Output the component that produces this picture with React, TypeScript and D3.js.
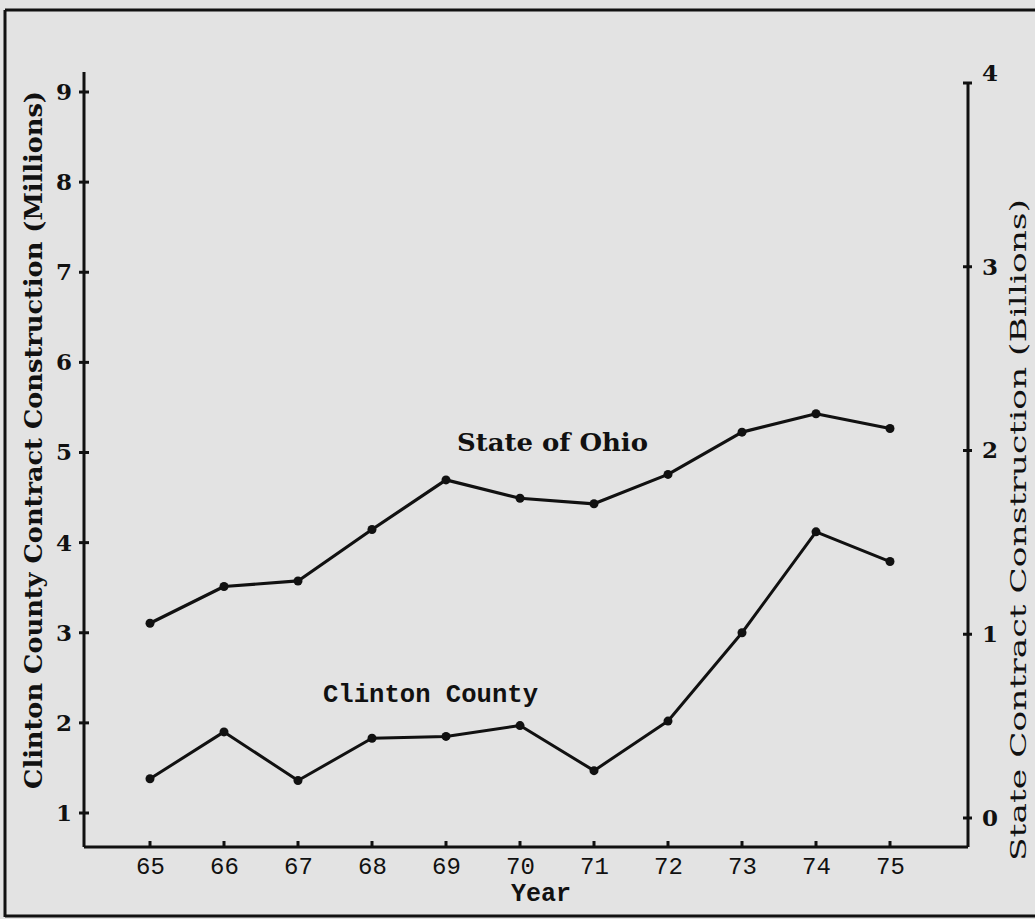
import React, { useEffect, useRef } from 'react';
import * as d3 from 'd3';

// years on the x axis (two-digit, 1965-1975)
const years = [65, 66, 67, 68, 69, 70, 71, 72, 73, 74, 75];
// Clinton County contract construction, millions of dollars (left axis)
const clintonValues = [1.38, 1.9, 1.36, 1.83, 1.85, 1.97, 1.47, 2.02, 3.0, 4.12, 3.79];
// State of Ohio contract construction, billions of dollars (right axis)
const ohioValues = [1.06, 1.26, 1.29, 1.57, 1.84, 1.74, 1.71, 1.87, 2.1, 2.2, 2.12];
const leftTicks = [1, 2, 3, 4, 5, 6, 7, 8, 9];
const rightTicks = [0, 1, 2, 3, 4];

const W = 1035;
const H = 919;
const TYPE = '"Liberation Mono", "DejaVu Sans Mono", monospace';
const SERIF = '"DejaVu Serif", "Liberation Serif", serif';

const App: React.FC = () => {
  const ref = useRef<SVGSVGElement | null>(null);

  useEffect(() => {
    if (!ref.current) return;
    const svg = d3.select(ref.current);
    svg.selectAll('*').remove();

    const x = d3.scaleLinear().domain([65, 75]).range([150, 890]);
    const yL = d3.scaleLinear().domain([1, 9]).range([813, 92]);
    const yR = d3.scaleLinear().domain([0, 4]).range([818, 83]);
    const axisX = 84;
    const rightX = 968;
    const baseY = 847;

    // paper
    svg.append('rect').attr('width', W).attr('height', H).attr('fill', '#e3e3e3');

    // page frame
    svg.append('line').attr('x1', 5).attr('x2', W).attr('y1', 10).attr('y2', 10)
      .attr('stroke', '#111').attr('stroke-width', 3);
    svg.append('line').attr('x1', 5).attr('x2', 5).attr('y1', 10).attr('y2', 917)
      .attr('stroke', '#111').attr('stroke-width', 3);
    svg.append('line').attr('x1', 5).attr('x2', W).attr('y1', 916).attr('y2', 916)
      .attr('stroke', '#111').attr('stroke-width', 3);

    const g = svg.append('g');

    // left axis
    const left = g.append('g').attr('transform', `translate(${axisX},0)`);
    left.call(d3.axisLeft(yL).tickValues(leftTicks).tickSize(0).tickPadding(12).tickFormat(d3.format('d')));
    left.select('.domain').remove();
    left.selectAll('text')
      .style('font-family', SERIF).style('font-size', '23px').style('font-weight', 'bold').attr('fill', '#111');
    g.append('line').attr('x1', axisX).attr('x2', axisX).attr('y1', 72).attr('y2', baseY)
      .attr('stroke', '#111').attr('stroke-width', 3);
    g.selectAll('line.lt').data(leftTicks).enter().append('line')
      .attr('x1', axisX - 5).attr('x2', axisX + 5)
      .attr('y1', d => yL(d)).attr('y2', d => yL(d))
      .attr('stroke', '#111').attr('stroke-width', 3);

    // right axis
    const right = g.append('g').attr('transform', `translate(${rightX},0)`);
    right.call(d3.axisRight(yR).tickValues(rightTicks).tickSize(0).tickPadding(14).tickFormat(d3.format('d')));
    right.select('.domain').remove();
    right.selectAll('text')
      .style('font-family', SERIF).style('font-size', '23px').style('font-weight', 'bold').attr('fill', '#111')
      .attr('dy', (d: any) => (d === 4 ? '-0.1em' : '0.32em'));
    g.append('line').attr('x1', rightX).attr('x2', rightX).attr('y1', yR(4)).attr('y2', baseY)
      .attr('stroke', '#111').attr('stroke-width', 3);
    g.selectAll('line.rt').data(rightTicks).enter().append('line')
      .attr('x1', rightX - 5).attr('x2', rightX + 4)
      .attr('y1', d => yR(d)).attr('y2', d => yR(d))
      .attr('stroke', '#111').attr('stroke-width', 3);

    // x axis
    const bottom = g.append('g').attr('transform', `translate(0,${baseY})`);
    bottom.call(d3.axisBottom(x).tickValues(years).tickSize(0).tickPadding(10).tickFormat(d3.format('d')));
    bottom.select('.domain').remove();
    bottom.selectAll('text')
      .style('font-family', TYPE).style('font-size', '24px').attr('fill', '#111');
    g.append('line').attr('x1', axisX).attr('x2', rightX).attr('y1', baseY).attr('y2', baseY)
      .attr('stroke', '#111').attr('stroke-width', 3);
    g.selectAll('line.xt').data(years).enter().append('line')
      .attr('x1', d => x(d)).attr('x2', d => x(d))
      .attr('y1', baseY - 6).attr('y2', baseY)
      .attr('stroke', '#111').attr('stroke-width', 3);

    // axis titles
    g.append('text')
      .attr('transform', `translate(42,440) rotate(-90)`)
      .attr('text-anchor', 'middle')
      .attr('textLength', 698).attr('lengthAdjust', 'spacingAndGlyphs')
      .style('font-family', SERIF).style('font-size', '24px').style('font-weight', 'bold').attr('fill', '#111')
      .text('Clinton County Contract Construction (Millions)');
    g.append('text')
      .attr('transform', `translate(1026,530) rotate(-90)`)
      .attr('text-anchor', 'middle')
      .attr('textLength', 662).attr('lengthAdjust', 'spacingAndGlyphs')
      .style('font-family', SERIF).style('font-size', '22px').attr('fill', '#111')
      .text('State Contract Construction (Billions)');
    g.append('text')
      .attr('x', 541).attr('y', 901)
      .attr('text-anchor', 'middle')
      .style('font-family', TYPE).style('font-size', '25px').style('font-weight', 'bold').attr('fill', '#111')
      .text('Year');

    // series
    const clinton = years.map((yr, i) => ({ yr, v: clintonValues[i] }));
    const ohio = years.map((yr, i) => ({ yr, v: ohioValues[i] }));

    const lineL = d3.line<{ yr: number; v: number }>().x(d => x(d.yr)).y(d => yL(d.v));
    const lineR = d3.line<{ yr: number; v: number }>().x(d => x(d.yr)).y(d => yR(d.v));

    g.append('path').datum(ohio).attr('d', lineR)
      .attr('fill', 'none').attr('stroke', '#111').attr('stroke-width', 3.2).attr('stroke-linejoin', 'round');
    g.selectAll('circle.oh').data(ohio).enter().append('circle')
      .attr('cx', d => x(d.yr)).attr('cy', d => yR(d.v)).attr('r', 4.5).attr('fill', '#111');

    g.append('path').datum(clinton).attr('d', lineL)
      .attr('fill', 'none').attr('stroke', '#111').attr('stroke-width', 3).attr('stroke-linejoin', 'round');
    g.selectAll('circle.cl').data(clinton).enter().append('circle')
      .attr('cx', d => x(d.yr)).attr('cy', d => yL(d.v)).attr('r', 4.5).attr('fill', '#111');

    // series labels
    g.append('text')
      .attr('x', 457).attr('y', 451)
      .attr('textLength', 191).attr('lengthAdjust', 'spacingAndGlyphs')
      .style('font-family', SERIF).style('font-size', '24px').style('font-weight', 'bold').attr('fill', '#111')
      .text('State of Ohio');
    g.append('text')
      .attr('x', 323).attr('y', 702)
      .attr('textLength', 215).attr('lengthAdjust', 'spacingAndGlyphs')
      .style('font-family', TYPE).style('font-size', '26px').style('font-weight', 'bold').attr('fill', '#111')
      .text('Clinton County');
  }, []);

  return (
    <svg
      ref={ref}
      width={W}
      height={H}
      style={{ position: 'absolute', left: 0, top: 0, display: 'block' }}
    />
  );
};

export default App;
